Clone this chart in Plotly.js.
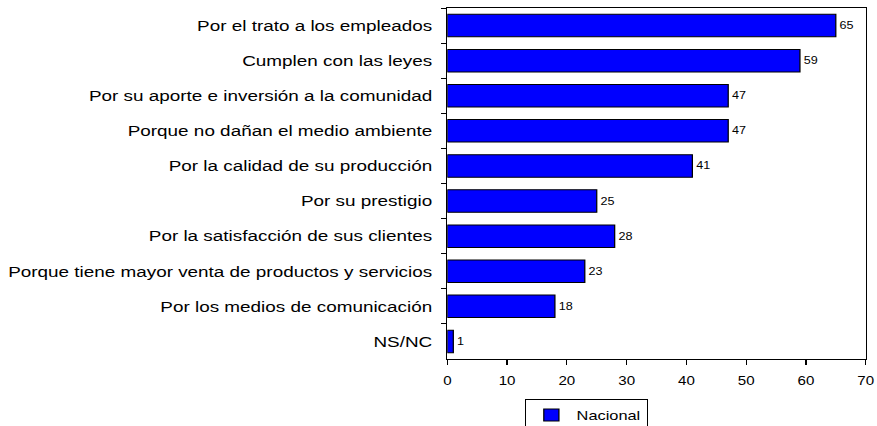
<!DOCTYPE html>
<html>
<head>
<meta charset="utf-8">
<script src="https://cdn.plot.ly/plotly-3.0.1.min.js"></script>
<style>
html,body{margin:0;padding:0;background:#fff;overflow:hidden;}
#chart{width:696px;height:426px;transform:scaleX(1.2601);transform-origin:0 0;}
</style>
</head>
<body>
<div id="chart"></div>
<script>
const categories = [
  "Por el trato a los empleados",
  "Cumplen con las leyes",
  "Por su aporte e inversión a la comunidad",
  "Porque no dañan el medio ambiente",
  "Por la calidad de su producción",
  "Por su prestigio",
  "Por la satisfacción de sus clientes",
  "Porque tiene mayor venta de productos y servicios",
  "Por los medios de comunicación",
  "NS/NC"
];
const nacional = [65, 59, 47, 47, 41, 25, 28, 23, 18, 1];
const xTicks = [0, 10, 20, 30, 40, 50, 60, 70];
const seriesName = "Nacional";

const font = "Arial, 'Liberation Sans', sans-serif";

const trace = {
  type: "bar",
  orientation: "h",
  name: seriesName,
  y: categories,
  x: nacional,
  text: nacional.map(String),
  textposition: "outside",
  textfont: {family: font, size: 10, color: "#000"},
  cliponaxis: false,
  width: 0.64,
  marker: {color: "#0000FF", line: {color: "#000", width: 1}},
  showlegend: true,
  hoverinfo: "x+y"
};

const layout = {
  width: 696, height: 426,
  margin: {l: 355, r: 9, t: 8, b: 67, pad: 0, autoexpand: false},
  paper_bgcolor: "#fff", plot_bgcolor: "#fff",
  font: {family: font, color: "#000"},
  showlegend: true,
  legend: {
    orientation: "h", xref: "paper", x: 0.333, xanchor: "center",
    yref: "container", y: 0.0634, yanchor: "top",
    bordercolor: "#000", borderwidth: 1, bgcolor: "#fff",
    font: {family: font, size: 13, color: "#000"},
    itemwidth: 30
  },
  xaxis: {
    range: [0, 70], tickvals: xTicks, ticktext: xTicks.map(String),
    showgrid: false, zeroline: false,
    showline: true, linecolor: "#000", linewidth: 1, mirror: true,
    ticks: "outside", ticklen: 5, tickcolor: "#000",
    tickfont: {family: font, size: 12, color: "#000"},
    ticklabelstandoff: 6
  },
  yaxis: {
    autorange: "reversed", type: "category",
    showgrid: false, zeroline: false,
    showline: true, linecolor: "#000", linewidth: 1, mirror: true,
    ticks: "outside", ticklen: 4, tickcolor: "#000", tickson: "boundaries",
    tickfont: {family: font, size: 15, color: "#000"},
    ticklabelstandoff: 8
  },
  bargap: 0.36
};

Plotly.newPlot("chart", [trace], layout, {staticPlot: true, displayModeBar: false});
</script>
</body>
</html>
